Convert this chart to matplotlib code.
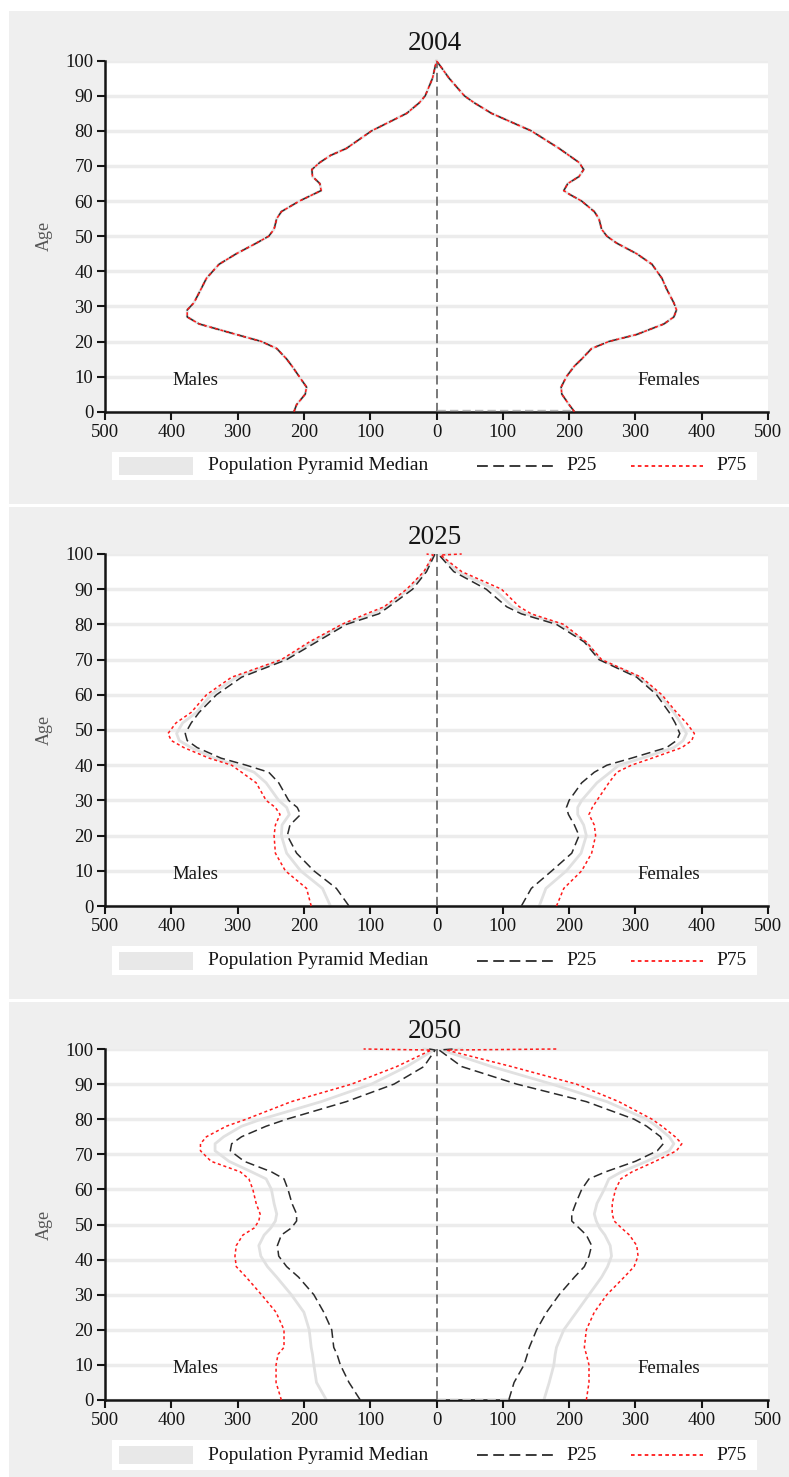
import matplotlib
matplotlib.use("Agg")
import matplotlib.pyplot as plt
from matplotlib.patches import Rectangle
from matplotlib.lines import Line2D

plt.rcParams["font.family"] = ["Liberation Serif", "DejaVu Serif"]

# ── data (males/females as positive counts)
YEARS = ["2004", "2025", "2050"]

AGE_2004 = [0, 2, 5, 7, 10, 13, 15, 18, 20, 22, 25, 27, 29, 31, 35, 38, 42, 45, 48,
            50, 52, 55, 57, 60, 62, 63, 65, 67, 69, 71, 73, 75, 80, 85, 88, 90, 95, 100]
M_2004 = [215, 211, 198, 196, 207, 218, 226, 241, 264, 302, 358, 376, 376, 366, 355, 347,
          328, 302, 272, 253, 245, 241, 234, 207, 185, 174, 176, 187, 188, 176, 160, 136,
          98, 45, 26, 17, 6, 0]
F_2004 = [208, 200, 189, 188, 196, 208, 219, 234, 260, 302, 343, 358, 362, 358, 347, 340,
          325, 302, 272, 257, 249, 245, 238, 219, 200, 192, 198, 215, 222, 215, 200, 185,
          143, 83, 57, 42, 19, 0]

# last point is the open-ended 100+ group
AGE_2025 = [0, 5, 10, 15, 20, 23, 26, 28, 30, 35, 38, 40, 42, 45, 47, 49, 52, 55, 60,
            65, 70, 75, 80, 83, 85, 90, 95, 99.7, 100]
M_P25_2025 = [132, 151, 185, 211, 225, 221, 205, 210, 223, 238, 253, 287, 325, 361, 376,
              379, 370, 358, 332, 294, 226, 181, 136, 87, 72, 36, 15, 3, 3]
M_MED_2025 = [160, 172, 205, 226, 234, 233, 222, 226, 238, 257, 275, 302, 335, 370, 388,
              392, 383, 362, 340, 302, 230, 187, 140, 97, 75, 42, 17, 4, 6]
M_P75_2025 = [189, 196, 228, 243, 245, 243, 236, 243, 257, 272, 294, 309, 343, 381, 400,
              405, 393, 370, 347, 309, 234, 192, 143, 106, 79, 45, 19, 5, 15]
F_P25_2025 = [128, 143, 174, 204, 215, 208, 199, 196, 200, 219, 238, 257, 294, 347, 362,
              367, 360, 351, 332, 302, 245, 223, 181, 128, 106, 75, 26, 4, 5]
F_MED_2025 = [155, 165, 196, 218, 226, 222, 213, 213, 219, 242, 262, 275, 310, 358, 372,
              377, 368, 358, 336, 306, 247, 225, 187, 135, 115, 87, 32, 5, 20]
F_P75_2025 = [181, 192, 219, 234, 240, 238, 230, 235, 242, 260, 272, 294, 325, 370, 385,
              389, 377, 362, 340, 309, 249, 226, 192, 143, 125, 98, 38, 6, 38]

AGE_2050 = [0, 5, 10, 13, 15, 20, 25, 30, 35, 38, 41, 44, 47, 49, 51, 53, 56, 60, 63,
            65, 68, 71, 73, 75, 78, 80, 85, 90, 95, 99.7, 100]
M_P25_2050 = [115, 132, 145, 150, 155, 158, 170, 185, 208, 226, 238, 240, 234, 219, 211,
              211, 218, 224, 230, 249, 290, 311, 309, 294, 257, 226, 136, 64, 19, 2, 11]
M_MED_2050 = [166, 181, 185, 187, 189, 192, 200, 219, 241, 255, 265, 268, 260, 250, 243,
              241, 245, 249, 257, 279, 313, 334, 334, 321, 294, 264, 174, 98, 45, 4, 19]
M_P75_2050 = [234, 242, 242, 239, 230, 230, 242, 264, 287, 302, 304, 302, 292, 275, 268,
              266, 272, 277, 283, 296, 340, 356, 356, 347, 317, 287, 219, 128, 60, 8, 110]
F_P25_2050 = [109, 117, 132, 137, 140, 151, 166, 185, 208, 223, 230, 234, 226, 215, 204,
              204, 210, 219, 230, 255, 300, 333, 342, 338, 317, 298, 226, 121, 38, 4, 26]
F_MED_2050 = [162, 170, 177, 179, 181, 192, 211, 230, 249, 258, 264, 262, 254, 246, 241,
              238, 242, 253, 260, 279, 317, 351, 358, 351, 332, 317, 257, 174, 83, 8, 38]
F_P75_2050 = [226, 230, 230, 226, 223, 226, 238, 257, 283, 298, 304, 302, 291, 279, 268,
              265, 265, 270, 278, 295, 330, 362, 370, 360, 340, 325, 275, 211, 113, 15, 182]

X_TICKS = [-500, -400, -300, -200, -100, 0, 100, 200, 300, 400, 500]
Y_TICKS = [0, 10, 20, 30, 40, 50, 60, 70, 80, 90, 100]

PANELS = [
    (AGE_2004, (M_2004, M_2004, M_2004), (F_2004, F_2004, F_2004)),
    (AGE_2025, (M_MED_2025, M_P25_2025, M_P75_2025), (F_MED_2025, F_P25_2025, F_P75_2025)),
    (AGE_2050, (M_MED_2050, M_P25_2050, M_P75_2050), (F_MED_2050, F_P25_2050, F_P75_2050)),
]

# ── layout in pixels of the 789x1477 reference
W, H = 789, 1477
BG_BOXES = [(11, 504), (507, 999), (1002, 1477)]
AX_TOPBOT = [(60.7, 411.7), (554, 906), (1049, 1400)]
TITLE_Y = [43, 537, 1032]
LEG_BOXES = [(452, 480), (946, 975), (1440, 1470)]
AX_LEFT, AX_RIGHT = 105, 768

MED_COLOR = "#e1e1e1"
P25_COLOR = "#2b2b2b"
P75_COLOR = "#ff1a1a"
PANEL_BG = "#efefef"
GRID_COLOR = "#ececec"
TEXT_COLOR = "#151515"
DASH = (0, (6, 3))
DOT = (0, (2.0, 1.8))


def fx(px):
    return px / W


def fy(py):
    return 1 - py / H


fig = plt.figure(figsize=(W / 100, H / 100), dpi=100)
fig.patch.set_facecolor("white")

for i, (ages, males, females) in enumerate(PANELS):
    top, bot = BG_BOXES[i]
    fig.add_artist(Rectangle((fx(9), fy(bot)), fx(W - 9), (bot - top) / H,
                             transform=fig.transFigure, facecolor=PANEL_BG,
                             edgecolor="none", zorder=-10))

    at, ab = AX_TOPBOT[i]
    ax = fig.add_axes([fx(AX_LEFT), fy(ab), fx(AX_RIGHT - AX_LEFT), (ab - at) / H])
    ax.set_facecolor("white")

    for y in Y_TICKS:
        ax.axhline(y, color=GRID_COLOR, lw=2.5, zorder=0)

    m_med, m_p25, m_p75 = males
    f_med, f_p25, f_p75 = females
    ax.plot([-v for v in m_med], ages, color=MED_COLOR, lw=2.0, zorder=2, clip_on=False)
    ax.plot(f_med, ages, color=MED_COLOR, lw=2.0, zorder=2, clip_on=False)
    ax.plot([-v for v in m_p25], ages, color=P25_COLOR, lw=1.1, ls=DASH, zorder=3,
            clip_on=False)
    ax.plot(f_p25, ages, color=P25_COLOR, lw=1.1, ls=DASH, zorder=3, clip_on=False)
    ax.plot([-v for v in m_p75], ages, color=P75_COLOR, lw=1.1, ls=DOT, zorder=4,
            clip_on=False)
    ax.plot(f_p75, ages, color=P75_COLOR, lw=1.1, ls=DOT, zorder=4, clip_on=False)

    # centre divider
    ax.plot([0, 0], [0, 100], color="#555555", lw=1.1, ls=DASH, zorder=3)
    if i != 1:
        ax.plot([0, f_p25[0]], [0.4, 0.4], color="#b8b8b8", lw=1.0, ls=DASH, zorder=3)

    ax.text(-364, 9, "Males", fontsize=13.5, ha="center", va="center", color=TEXT_COLOR)
    ax.text(351, 9, "Females", fontsize=13.5, ha="center", va="center", color=TEXT_COLOR)

    ax.set_xlim(-500, 500)
    ax.set_ylim(0, 100)
    ax.set_xticks(X_TICKS)
    ax.set_xticklabels([str(abs(t)) for t in X_TICKS])
    ax.set_yticks(Y_TICKS)
    ax.tick_params(direction="out", length=6, width=1.5, labelsize=13.5,
                   colors=TEXT_COLOR, pad=2.5)
    for side in ("top", "right"):
        ax.spines[side].set_visible(False)
    for side in ("left", "bottom"):
        ax.spines[side].set_linewidth(1.8)
        ax.spines[side].set_color(TEXT_COLOR)
    ax.set_ylabel("Age", fontsize=13, color="#555555")
    ax.yaxis.set_label_coords((53 - AX_LEFT) / (AX_RIGHT - AX_LEFT), 0.5)

    fig.text(fx(435), fy(TITLE_Y[i]), YEARS[i], fontsize=19.5, ha="center",
             va="center", color=TEXT_COLOR)

    # legend strip
    lt, lb = LEG_BOXES[i]
    fig.add_artist(Rectangle((fx(112), fy(lb)), fx(757 - 112), (lb - lt) / H,
                             transform=fig.transFigure, facecolor="white",
                             edgecolor="none", zorder=1))
    lc = (lt + lb) / 2
    fig.add_artist(Rectangle((fx(119), fy(lc + 9)), fx(193 - 119), 18 / H,
                             transform=fig.transFigure, facecolor="#e8e8e8",
                             edgecolor="none", zorder=2))
    fig.add_artist(Line2D([fx(477), fx(553)], [fy(lc), fy(lc)], transform=fig.transFigure,
                          color=P25_COLOR, lw=1.3, ls=DASH, zorder=2))
    fig.add_artist(Line2D([fx(631), fx(703)], [fy(lc), fy(lc)], transform=fig.transFigure,
                          color=P75_COLOR, lw=1.3, ls=DOT, zorder=2))
    fig.text(fx(208), fy(lc), "Population Pyramid Median", fontsize=14,
             ha="left", va="center", color=TEXT_COLOR)
    fig.text(fx(566), fy(lc), "P25", fontsize=14, ha="left", va="center", color=TEXT_COLOR)
    fig.text(fx(716), fy(lc), "P75", fontsize=14, ha="left", va="center", color=TEXT_COLOR)

fig.savefig("out.png", dpi=100)
